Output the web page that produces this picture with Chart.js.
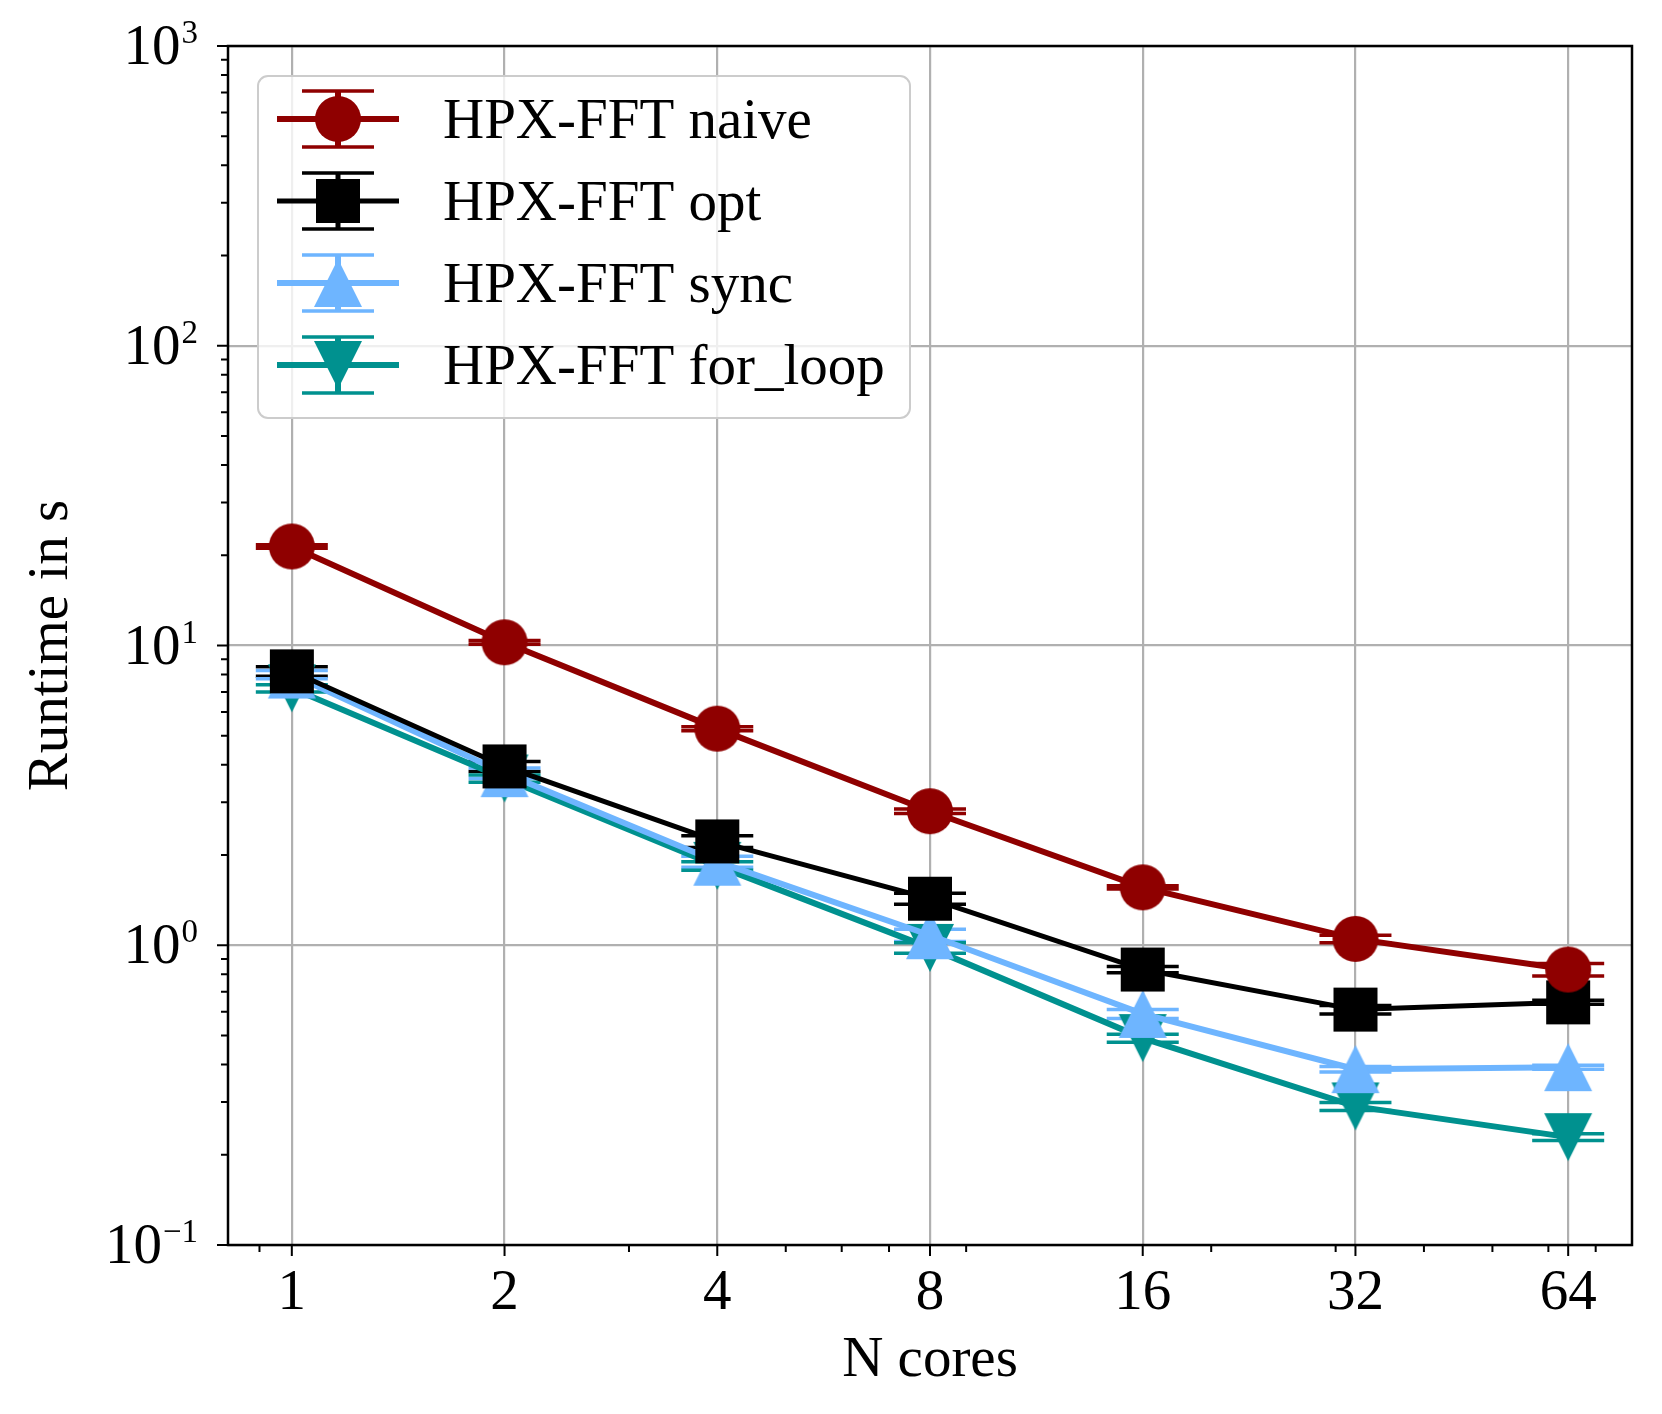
<!DOCTYPE html>
<html>
<head>
<meta charset="utf-8">
<script src="https://cdn.jsdelivr.net/npm/chart.js@4.4.0/dist/chart.umd.min.js"></script>
<style>
  html, body { margin: 0; padding: 0; background: #fff; }
  #wrap { width: 1662px; height: 1414px; }
</style>
</head>
<body>
<div id="wrap"><canvas id="chart" width="1662" height="1414"></canvas></div>
<script>
// runtimes in s
const cores = [1, 2, 4, 8, 16, 32, 64];
const naive = [21.4, 10.25, 5.28, 2.8, 1.56, 1.05, 0.83];
const naiveErr = [0.3, 0.15, 0.08, 0.05, 0.02, 0.03, 0.04];
const opt = [8.2, 3.95, 2.22, 1.43, 0.83, 0.61, 0.645];
const optErr = [0.3, 0.15, 0.1, 0.06, 0.02, 0.02, 0.01];
const sync = [8.0, 3.75, 1.9, 1.08, 0.59, 0.386, 0.392];
const syncErr = [0.25, 0.15, 0.08, 0.05, 0.02, 0.008, 0.006];
const forLoop = [7.2, 3.6, 1.84, 0.98, 0.49, 0.29, 0.229];
const forLoopErr = [0.2, 0.1, 0.06, 0.04, 0.015, 0.009, 0.006];

const seriesNames = ['HPX-FFT naive', 'HPX-FFT opt', 'HPX-FFT sync', 'HPX-FFT for_loop'];
const xTicks = [1, 2, 4, 8, 16, 32, 64];
const xMinorTicks = [0.9, 3, 5, 6, 7, 9, 20, 30, 40, 50, 60, 70];
const yTicks = [0.1, 1, 10, 100, 1000];
const yTickExp = ['\u22121', '0', '1', '2', '3'];

const FONT = '"Liberation Serif", "Times New Roman", serif';
const colors = ['#8f0000', '#000000', '#6eb5ff', '#00918f'];
const shapes = ['circle', 'square', 'up', 'down'];
const lineWidths = [6, 5, 6, 6];

function markerCanvas(shape, color) {
  const size = shape === 'circle' ? 46 : (shape === 'square' ? 44 : 48);
  const c = document.createElement('canvas');
  c.width = c.height = size + 4;
  const g = c.getContext('2d');
  const m = (size + 4) / 2, h = size / 2;
  g.fillStyle = color;
  g.beginPath();
  if (shape === 'circle') g.arc(m, m, h, 0, Math.PI * 2);
  else if (shape === 'square') g.rect(m - h, m - h, size, size);
  else if (shape === 'up') { g.moveTo(m, m - h); g.lineTo(m + h, m + h); g.lineTo(m - h, m + h); }
  else { g.moveTo(m, m + h); g.lineTo(m + h, m - h); g.lineTo(m - h, m - h); }
  g.closePath();
  g.fill();
  return c;
}
const markers = shapes.map((s, i) => markerCanvas(s, colors[i]));

const values = [naive, opt, sync, forLoop];
const errors = [naiveErr, optErr, syncErr, forLoopErr];

const datasets = values.map((vals, i) => ({
  label: seriesNames[i],
  data: cores.map((c, j) => ({ x: c, y: vals[j] })),
  borderColor: colors[i],
  backgroundColor: colors[i],
  borderWidth: lineWidths[i],
  pointStyle: markers[i],
  pointRadius: 24,
  tension: 0
}));

function drawErrorBar(ctx, x, y1, y2, color, lw) {
  ctx.strokeStyle = color;
  ctx.lineWidth = lw;
  ctx.beginPath();
  ctx.moveTo(x, y1); ctx.lineTo(x, y2);
  ctx.stroke();
  ctx.lineWidth = 3.5;
  ctx.beginPath();
  ctx.moveTo(x - 36, y1); ctx.lineTo(x + 36, y1);
  ctx.moveTo(x - 36, y2); ctx.lineTo(x + 36, y2);
  ctx.stroke();
}

const decorations = {
  id: 'decorations',
  beforeDatasetsDraw(chart) {
    const ctx = chart.ctx, ys = chart.scales.y;
    ctx.save();
    values.forEach((vals, i) => {
      const meta = chart.getDatasetMeta(i);
      vals.forEach((v, j) => {
        const x = meta.data[j].x;
        drawErrorBar(ctx, x, ys.getPixelForValue(v + errors[i][j]), ys.getPixelForValue(v - errors[i][j]), colors[i], lineWidths[i]);
      });
    });
    ctx.restore();
  },
  afterDraw(chart) {
    const ctx = chart.ctx, a = chart.chartArea;
    const xs = chart.scales.x, ys = chart.scales.y;
    ctx.save();
    // spines
    ctx.strokeStyle = '#000';
    ctx.lineWidth = 2.5;
    ctx.strokeRect(a.left, a.top, a.right - a.left, a.bottom - a.top);

    // tick marks
    ctx.lineWidth = 2;
    ctx.beginPath();
    xTicks.forEach(v => { const x = xs.getPixelForValue(v); ctx.moveTo(x, a.bottom); ctx.lineTo(x, a.bottom + 11); });
    xMinorTicks.forEach(v => { const x = xs.getPixelForValue(v); ctx.moveTo(x, a.bottom); ctx.lineTo(x, a.bottom + 7); });
    yTicks.forEach(v => { const y = ys.getPixelForValue(v); ctx.moveTo(a.left, y); ctx.lineTo(a.left - 11, y); });
    for (let e = -1; e < 3; e++) {
      for (let k = 2; k < 10; k++) {
        const y = ys.getPixelForValue(k * Math.pow(10, e));
        ctx.moveTo(a.left, y); ctx.lineTo(a.left - 7, y);
      }
    }
    ctx.stroke();

    // tick labels
    ctx.fillStyle = '#000';
    ctx.font = '57px ' + FONT;
    ctx.textAlign = 'center';
    ctx.textBaseline = 'alphabetic';
    xTicks.forEach(v => ctx.fillText(String(v), xs.getPixelForValue(v), 1309));
    yTicks.forEach((v, i) => {
      const y = ys.getPixelForValue(v);
      ctx.font = '33px ' + FONT;
      const ws = ctx.measureText(yTickExp[i]).width;
      ctx.font = '57px ' + FONT;
      const wb = ctx.measureText('10').width;
      const right = 198;
      ctx.textAlign = 'left';
      ctx.fillText('10', right - ws - wb - 1, y + 18);
      ctx.font = '33px ' + FONT;
      ctx.fillText(yTickExp[i], right - ws, y - 3);
    });

    // axis titles
    ctx.font = '57px ' + FONT;
    ctx.textAlign = 'center';
    ctx.fillText('N cores', (a.left + a.right) / 2, 1376);
    ctx.save();
    ctx.translate(67, (a.top + a.bottom) / 2);
    ctx.rotate(-Math.PI / 2);
    ctx.fillText('Runtime in s', 0, 0);
    ctx.restore();

    // legend
    const lx = 258, ly = 76, lw = 652, lh = 342;
    ctx.fillStyle = 'rgba(255,255,255,0.8)';
    ctx.strokeStyle = '#cccccc';
    ctx.lineWidth = 2;
    ctx.beginPath();
    ctx.roundRect(lx, ly, lw, lh, 10);
    ctx.fill();
    ctx.stroke();
    seriesNames.forEach((name, i) => {
      const cy = 119 + i * 82;
      ctx.strokeStyle = colors[i];
      ctx.lineWidth = lineWidths[i];
      ctx.beginPath();
      ctx.moveTo(277, cy); ctx.lineTo(399, cy);
      ctx.stroke();
      drawErrorBar(ctx, 338, cy - 28, cy + 28, colors[i], lineWidths[i]);
      ctx.drawImage(markers[i], 338 - markers[i].width / 2, cy - markers[i].height / 2);
      ctx.fillStyle = '#000';
      ctx.font = '57px ' + FONT;
      ctx.textAlign = 'left';
      ctx.fillText(name, 443, cy + 19);
    });
    ctx.restore();
  }
};

new Chart(document.getElementById('chart'), {
  type: 'line',
  data: { datasets: datasets },
  plugins: [decorations],
  options: {
    responsive: false,
    animation: false,
    devicePixelRatio: 1,
    layout: { padding: { left: 228, right: 26, top: 46, bottom: 169 } },
    plugins: { legend: { display: false }, tooltip: { enabled: false } },
    scales: {
      x: {
        type: 'logarithmic',
        min: Math.pow(2, -0.3),
        max: Math.pow(2, 6.3),
        afterBuildTicks: s => { s.ticks = xTicks.map(v => ({ value: v })); },
        afterFit: s => { s.height = 0; },
        ticks: { display: false },
        border: { display: false },
        grid: { color: '#b0b0b0', lineWidth: 2.2, drawTicks: false }
      },
      y: {
        type: 'logarithmic',
        min: 0.1,
        max: 1000,
        afterBuildTicks: s => { s.ticks = yTicks.map(v => ({ value: v })); },
        afterFit: s => { s.width = 0; },
        ticks: { display: false },
        border: { display: false },
        grid: { color: '#b0b0b0', lineWidth: 2.2, drawTicks: false }
      }
    }
  }
});
</script>
</body>
</html>
